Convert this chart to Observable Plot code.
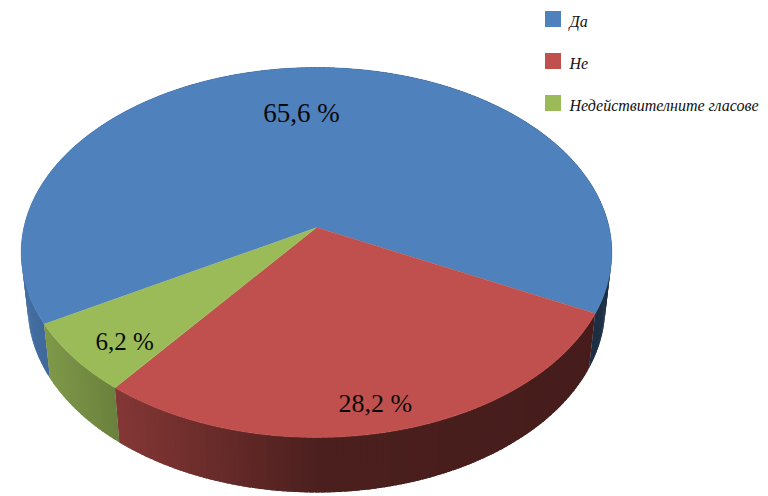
<!DOCTYPE html>
<html lang="bg">
<head>
<meta charset="utf-8">
<script src="https://cdn.jsdelivr.net/npm/d3@7"></script>
<script src="https://cdn.jsdelivr.net/npm/@observablehq/plot@0.6"></script>
<style>
  html, body { margin: 0; padding: 0; background: #fff; }
  svg { display: block; }
</style>
</head>
<body>
<div id="chart"></div>
<script>
const categories = ["Да", "Не", "Недействителните гласове"];
const percents = [65.6, 28.2, 6.2];
const valueLabels = ["65,6 %", "28,2 %", "6,2 %"];
const sliceColors = ["#4f81bd", "#c0504d", "#9bbb59"];

// Perspective view of the pie: angles are measured clockwise from the right.
const startAngle = 150.3;
const view = {cx: 316, cy: 227, k: 292.6, m: 181.6, p: 0.135, baseCy: 281, baseX: 0.978, baseY: 1.005};
const rad = (a) => (a * Math.PI) / 180;
function topPoint(a, r = 1) {
  const u = r * Math.cos(rad(a)), v = r * Math.sin(rad(a)), w = 1 - view.p * v;
  return [view.cx + (view.k * u) / w, view.cy + (view.m * v) / w];
}
function basePoint(a) {
  const [x, y] = topPoint(a);
  return [view.cx + view.baseX * (x - view.cx), view.baseCy + view.baseY * (y - view.cy)];
}

// Angular extent of each slice, from its value.
const total = d3.sum(percents);
let running = startAngle;
const slices = categories.map((name, i) => {
  const a0 = running;
  running += (percents[i] / total) * 360;
  return {name, i, a0, a1: running, color: sliceColors[i]};
});

const shade = d3.scaleLinear().domain([25, 113, 320, 612]).range([0.85, 0.69, 0.39, 0.36]).clamp(true);
function darker(hex, f) {
  const c = d3.rgb(hex);
  return d3.rgb(c.r * f, c.g * f, c.b * f).formatHex();
}

const sidePts = [];
const facePts = [];
for (const s of slices) {
  for (let a = s.a0; a < s.a1; a += 1) {
    const color = darker(s.color, shade(topPoint(a + 0.5)[0]));
    const b = Math.min(a + 1.8, s.a1); // strips overlap the next one so that no seam shows
    const id = `${s.i}-${a}`;
    for (const [x, y] of [topPoint(a), topPoint(b), basePoint(b), basePoint(a)]) sidePts.push({x, y, id, color});
  }
  facePts.push({x: view.cx, y: view.cy, id: s.i, color: s.color});
  for (let a = s.a0; ; a += 1) {
    const [x, y] = topPoint(Math.min(a, s.a1));
    facePts.push({x, y, id: s.i, color: s.color});
    if (a >= s.a1) break;
  }
}

// Value labels sit inside their slices.
const labelPlacement = [{a: 265.3, r: 0.688, size: 27}, {a: 78.3, r: 0.875, size: 26}, {a: 136.2, r: 0.837, size: 25}];
const labelPts = valueLabels.map((text, i) => {
  const [x, y] = topPoint(labelPlacement[i].a, labelPlacement[i].r);
  return {x, y, text, size: labelPlacement[i].size};
});

const legendPts = categories.map((name, i) => ({name, color: sliceColors[i], y: 19 + 42 * i}));

const chart = Plot.plot({
  width: 768,
  height: 496,
  margin: 0,
  style: {background: "#fff"},
  x: {domain: [0, 768], range: [0, 768], axis: null},
  y: {domain: [0, 496], range: [0, 496], axis: null},
  color: {type: "identity"},
  marks: [
    Plot.line(sidePts, {x: "x", y: "y", z: "id", fill: "color", stroke: "none"}),
    Plot.line(facePts, {x: "x", y: "y", z: "id", fill: "color", stroke: "color", strokeWidth: 0.5}),
    ...labelPts.map((d) =>
      Plot.text([d], {x: "x", y: "y", text: "text", fontSize: d.size, fontFamily: "Liberation Serif", fill: "#0a0a0a"})
    ),
    Plot.rect(legendPts, {
      x1: () => 545, x2: () => 561,
      y1: (d) => d.y - 8, y2: (d) => d.y + 8,
      fill: "color"
    }),
    Plot.text(legendPts, {
      x: () => 569, y: "y", dy: 2, text: "name", textAnchor: "start",
      fontSize: 16, fontStyle: "italic", fontFamily: "Liberation Serif", fill: "#111"
    })
  ]
});
document.getElementById("chart").appendChild(chart);
</script>
</body>
</html>
